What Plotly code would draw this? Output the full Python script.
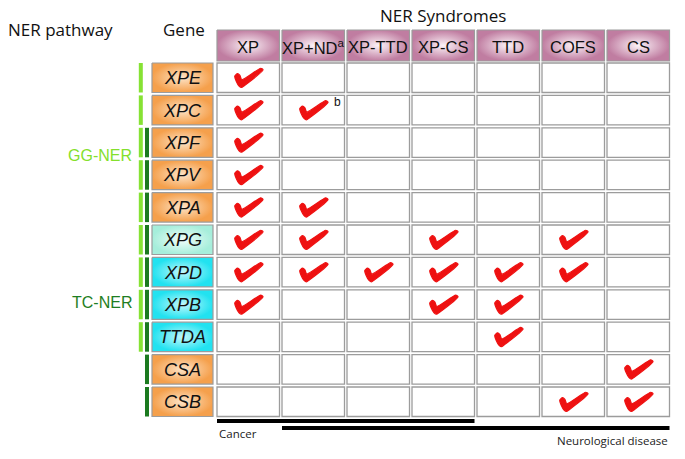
import plotly.graph_objects as go

# ---------------- data ----------------
syndromes = ["XP", "XP+ND<sup>a</sup>", "XP-TTD", "XP-CS", "TTD", "COFS", "CS"]
genes = ["XPE", "XPC", "XPF", "XPV", "XPA", "XPG", "XPD", "XPB", "TTDA", "CSA", "CSB"]
gene_group = ["orange", "orange", "orange", "orange", "orange", "mint",
              "cyan", "cyan", "cyan", "orange", "orange"]
# association matrix: rows = genes, cols = syndromes
assoc = [
    [1, 0, 0, 0, 0, 0, 0],  # XPE
    [1, 1, 0, 0, 0, 0, 0],  # XPC
    [1, 0, 0, 0, 0, 0, 0],  # XPF
    [1, 0, 0, 0, 0, 0, 0],  # XPV
    [1, 1, 0, 0, 0, 0, 0],  # XPA
    [1, 1, 0, 1, 0, 1, 0],  # XPG
    [1, 1, 1, 1, 1, 1, 0],  # XPD
    [1, 0, 0, 1, 1, 0, 0],  # XPB
    [0, 0, 0, 0, 1, 0, 0],  # TTDA
    [0, 0, 0, 0, 0, 0, 1],  # CSA
    [0, 0, 0, 0, 0, 1, 1],  # CSB
]
gg_member = [1, 1, 1, 1, 1, 1, 1, 1, 1, 0, 0]
tc_member = [0, 0, 1, 1, 1, 1, 1, 1, 1, 1, 1]
cancer_cols = [0, 3]      # XP .. XP-CS
neuro_cols = [1, 6]       # XP+ND .. CS
footnote_cell = (1, 1)    # XPC / XP+ND -> "b"

# ---------------- layout geometry ----------------
W, H = 685, 459
COL_X0, COL_PITCH, CELL_W = 217, 65.0, 62.5
ROW_Y0, ROW_PITCH, CELL_H = 63, 32.4, 29.5
HEAD_Y0, HEAD_Y1 = 30, 61
GENE_X0, GENE_X1 = 152, 213
GRID = "#9c9c9c"
CELL_FONT = "Liberation Sans Narrow, Liberation Sans, Arial"

fills = {
    "orange": ("#fde4c8", "#f5a04c"),
    "mint": ("#f2fdfa", "#a6eedb"),
    "cyan": ("#c2f8fc", "#22e2f0"),
}
HEAD_FILL = ("#fbf2f7", "#c07da1")


def cx0(j):
    return COL_X0 + j * COL_PITCH


def ry0(i):
    return ROW_Y0 + i * ROW_PITCH


fig = go.Figure()
shapes = []
ann = []


def grad_rect(x0, y0, x1, y1, c_in, c_out):
    fig.add_trace(go.Scatter(
        x=[x0, x1, x1, x0, x0], y=[y0, y0, y1, y1, y0],
        mode="lines", fill="toself",
        line=dict(color=GRID, width=1.2),
        fillgradient=dict(type="radial", colorscale=[[0, c_in], [1, c_out]]),
        hoverinfo="skip", showlegend=False))


# header cells
for j, s in enumerate(syndromes):
    grad_rect(cx0(j), HEAD_Y0, cx0(j) + CELL_W, HEAD_Y1, *HEAD_FILL)
    ann.append(dict(x=cx0(j) + CELL_W / 2, y=(HEAD_Y0 + HEAD_Y1) / 2 + 1, text=s,
                    showarrow=False, font=dict(family=CELL_FONT, size=16.5, color="#111")))

# gene cells
for i, g in enumerate(genes):
    y0 = ry0(i)
    grad_rect(GENE_X0, y0, GENE_X1, y0 + CELL_H, *fills[gene_group[i]])
    ann.append(dict(x=(GENE_X0 + GENE_X1) / 2, y=y0 + CELL_H / 2 + 0.5, text="<i>%s</i>" % g,
                    showarrow=False, font=dict(family=CELL_FONT, size=18, color="#111")))

# grid cells
for i in range(len(genes)):
    for j in range(len(syndromes)):
        shapes.append(dict(type="rect", xref="x", yref="y",
                           x0=cx0(j), x1=cx0(j) + CELL_W, y0=ry0(i), y1=ry0(i) + CELL_H,
                           line=dict(color=GRID, width=1.3), fillcolor="white", layer="below"))

# pathway bars
for i in range(len(genes)):
    if gg_member[i]:
        shapes.append(dict(type="rect", xref="x", yref="y", x0=138.8, x1=142.8,
                           y0=ry0(i), y1=ry0(i) + CELL_H, line=dict(width=0), fillcolor="#86e234"))
    if tc_member[i]:
        shapes.append(dict(type="rect", xref="x", yref="y", x0=145, x1=149,
                           y0=ry0(i), y1=ry0(i) + CELL_H, line=dict(width=0), fillcolor="#1b7a1f"))

# check marks (template polygon placed at each associated cell centre)
tmpl = [(-13.5, -2), (-10.8, -4.6), (-8.3, -2.8), (-6.5, 1.5), (12.5, -10), (14.8, -8.4),
        (-4, 7.4), (-6.8, 9.2), (-9.2, 7.8), (-12, 3), (-13.5, -2)]
cxs, cys = [], []
for i in range(len(genes)):
    for j in range(len(syndromes)):
        if assoc[i][j]:
            ccx = cx0(j) + CELL_W / 2
            ccy = ry0(i) + CELL_H / 2 + 0.5
            cxs += [ccx + dx for dx, dy in tmpl] + [None]
            cys += [ccy + dy for dx, dy in tmpl] + [None]
fig.add_trace(go.Scatter(x=cxs, y=cys, mode="lines", fill="toself", fillcolor="#ee1111",
                         line=dict(color="#ee1111", width=1.2, shape="spline", smoothing=0.6),
                         hoverinfo="skip", showlegend=False))

# footnote b
fi, fj = footnote_cell
ann.append(dict(x=cx0(fj) + CELL_W - 2, y=ry0(fi) + 7, text="b", showarrow=False, xanchor="right",
                font=dict(family="Liberation Sans, Arial", size=12, color="#111")))

# cancer / neuro bars
shapes.append(dict(type="rect", xref="x", yref="y", x0=cx0(cancer_cols[0]),
                   x1=cx0(cancer_cols[1]) + CELL_W, y0=419, y1=423,
                   line=dict(width=0), fillcolor="black"))
shapes.append(dict(type="rect", xref="x", yref="y", x0=cx0(neuro_cols[0]),
                   x1=cx0(neuro_cols[1]) + CELL_W, y0=426, y1=430,
                   line=dict(width=0), fillcolor="black"))
ann.append(dict(x=cx0(cancer_cols[0]), y=433, text="Cancer", showarrow=False, xanchor="left",
                font=dict(family="Open Sans, Noto Sans", size=11.5, color="#222")))
ann.append(dict(x=cx0(neuro_cols[1]) + CELL_W, y=440, text="Neurological disease", showarrow=False,
                xanchor="right", font=dict(family="Open Sans, Noto Sans", size=11.5, color="#222")))

# titles
title_font = dict(family="Open Sans, Noto Sans", size=17, color="#111")
ann.append(dict(x=6, y=29, text="NER pathway", showarrow=False, xanchor="left", font=title_font))
ann.append(dict(x=(GENE_X0 + GENE_X1) / 2 + 1, y=29, text="Gene", showarrow=False, font=title_font))
ann.append(dict(x=cx0(0) + (cx0(6) + CELL_W - cx0(0)) / 2, y=15, text="NER Syndromes",
                showarrow=False, font=title_font))

ann.append(dict(x=134, y=155, text="GG-NER", showarrow=False, xanchor="right",
                font=dict(family="Liberation Sans, Arial", size=16, color="#84e02c")))
ann.append(dict(x=134, y=302, text="TC-NER", showarrow=False, xanchor="right",
                font=dict(family="Liberation Sans, Arial", size=16, color="#1e7e22")))

fig.update_layout(
    width=W, height=H, margin=dict(l=0, r=0, t=0, b=0),
    paper_bgcolor="white", plot_bgcolor="white",
    xaxis=dict(range=[0, W], visible=False, fixedrange=True),
    yaxis=dict(range=[H, 0], visible=False, fixedrange=True),
    shapes=shapes, annotations=ann, showlegend=False,
)
fig.write_html("out.html", config={"displayModeBar": False},
               post_script="document.body.style.margin='0';document.body.style.overflow='hidden';")
